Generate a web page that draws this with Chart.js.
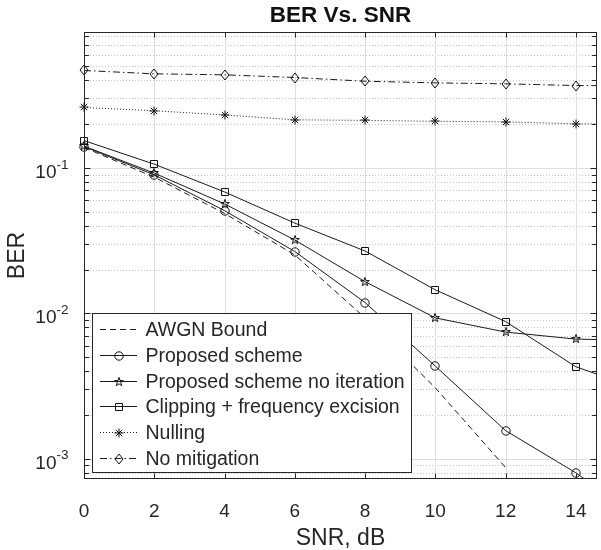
<!DOCTYPE html>
<html>
<head>
<meta charset="utf-8">
<script src="https://cdn.jsdelivr.net/npm/chart.js@4.4.0/dist/chart.umd.min.js"></script>
<style>
  html, body { margin: 0; padding: 0; background: #fff; overflow: hidden; }
  #wrap { width: 603px; height: 550px; }
</style>
</head>
<body>
<div id="wrap"><canvas id="ber" width="603" height="550"></canvas></div>
<script>
// SNR points (dB)
const snr = [0, 2, 4, 6, 8, 10, 12, 14, 16];
const snrAwgn = [0, 2, 4, 6, 8, 10, 12];

// BER curves
const berAwgn = [0.138, 0.0863, 0.0486, 0.0252, 0.0093, 0.00307, 0.00087];
const berProposed = [0.140, 0.0895, 0.0508, 0.0266, 0.01185, 0.00433, 0.00156, 0.00080, 0.00036];
const berNoIter = [0.141, 0.092, 0.0565, 0.0319, 0.0165, 0.0093, 0.00743, 0.00665, 0.0065];
const berClipping = [0.154, 0.106, 0.0683, 0.0417, 0.0268, 0.0145, 0.00877, 0.00429, 0.0029];
const berNulling = [0.260, 0.247, 0.231, 0.214, 0.212, 0.209, 0.207, 0.201, 0.199];
const berNoMitigation = [0.467, 0.443, 0.436, 0.418, 0.394, 0.384, 0.378, 0.368, 0.366];

const seriesLabels = [
  "AWGN Bound",
  "Proposed scheme",
  "Proposed scheme no iteration",
  "Clipping + frequency excision",
  "Nulling",
  "No mitigation"
];

// axis limits
const xMax = 14.6;
const yMin = 7.26e-4;
const yMax = 0.859;

const FONT = "'Liberation Sans', Arial, Helvetica, sans-serif";
const AXIS = "#262626";
const LINE = "#1a1a1a";

// MATLAB-like hollow markers as small canvases (centre at 7,7 for crisp 1px strokes)
function markerCanvas(draw) {
  const c = document.createElement("canvas");
  c.width = 14; c.height = 14;
  const g = c.getContext("2d");
  g.strokeStyle = "#111";
  g.lineWidth = 1;
  g.translate(7, 7);
  g.beginPath();
  draw(g);
  g.stroke();
  return c;
}

const circleMk = markerCanvas(g => g.arc(0, 0, 4.2, 0, Math.PI * 2));
const squareMk = markerCanvas(g => g.rect(-3.5, -3.5, 7, 7));
const diamondMk = markerCanvas(g => {
  g.moveTo(0, -5); g.lineTo(4, 0); g.lineTo(0, 5); g.lineTo(-4, 0); g.closePath();
});
const pentagramMk = markerCanvas(g => {
  const ro = 4.6, ri = ro * 0.382;
  for (let i = 0; i < 10; i++) {
    const r = i % 2 ? ri : ro;
    const a = -Math.PI / 2 + i * Math.PI / 5;
    if (i === 0) g.moveTo(r * Math.cos(a), r * Math.sin(a));
    else g.lineTo(r * Math.cos(a), r * Math.sin(a));
  }
  g.closePath();
});
const asteriskMk = markerCanvas(g => {
  const r = 4.5;
  for (let k = 0; k < 4; k++) {
    const a = k * Math.PI / 4;
    g.moveTo(-r * Math.cos(a), -r * Math.sin(a));
    g.lineTo(r * Math.cos(a), r * Math.sin(a));
  }
});

const pairs = (xs, ys) => ys.map((v, i) => ({ x: xs[i], y: v }));

function series(label, xs, ys, dash, marker) {
  return {
    label,
    data: pairs(xs, ys),
    borderColor: LINE,
    borderWidth: 1,
    borderDash: dash,
    pointStyle: marker || false,
    pointRadius: marker ? 5 : 0,
    fill: false,
    tension: 0,
    clip: { left: 8, top: 0, right: 0, bottom: 0 }
  };
}

const datasets = [
  series(seriesLabels[0], snrAwgn, berAwgn, [6, 4], null),
  series(seriesLabels[1], snr, berProposed, [], circleMk),
  series(seriesLabels[2], snr, berNoIter, [], pentagramMk),
  series(seriesLabels[3], snr, berClipping, [], squareMk),
  series(seriesLabels[4], snr, berNulling, [1, 2], asteriskMk),
  series(seriesLabels[5], snr, berNoMitigation, [7, 3, 1.5, 3], diamondMk)
];

function yTicks(min, max) {
  const out = [];
  for (let e = -5; e <= 1; e++) {
    for (let m = 1; m <= 9; m++) {
      const v = m * Math.pow(10, e);
      if (v >= min && v <= max) out.push({ v, e, major: m === 1 });
    }
  }
  return out;
}

function seg(ctx, x1, y1, x2, y2) {
  ctx.beginPath(); ctx.moveTo(x1, y1); ctx.lineTo(x2, y2); ctx.stroke();
}

// grid, box, ticks, legend and title in the MATLAB look
const matlabAxes = {
  id: "matlabAxes",
  beforeDatasetsDraw(chart) {
    const { ctx, chartArea: a, scales: { x, y } } = chart;
    const ticks = yTicks(y.min, y.max);
    ctx.save();
    ctx.lineWidth = 1;
    ctx.strokeStyle = "#c6c6c6";
    ctx.setLineDash([1, 2]);
    ticks.filter(t => !t.major).forEach(t => {
      const py = Math.round(y.getPixelForValue(t.v)) + 0.5;
      seg(ctx, a.left, py, a.right, py);
    });
    ctx.setLineDash([]);
    ctx.strokeStyle = "#e0e0e0";
    ticks.filter(t => t.major).forEach(t => {
      const py = Math.round(y.getPixelForValue(t.v)) + 0.5;
      seg(ctx, a.left, py, a.right, py);
    });
    x.ticks.forEach(t => {
      const px = Math.round(x.getPixelForValue(t.value)) + 0.5;
      seg(ctx, px, a.top, px, a.bottom);
    });
    ctx.restore();
    // markers are bitmaps: keep them sharp
    ctx.imageSmoothingEnabled = false;
  },
  afterDatasetsDraw(chart) {
    const { ctx, chartArea: a, scales: { x, y } } = chart;
    const L = Math.round(a.left) + 0.5, R = Math.round(a.right) - 0.5;
    const T = Math.round(a.top) + 0.5, B = Math.round(a.bottom) - 0.5;
    ctx.save();
    ctx.strokeStyle = AXIS;
    ctx.lineWidth = 1;
    ctx.strokeRect(L, T, R - L, B - T);

    // inward ticks
    x.ticks.forEach(t => {
      const px = Math.round(x.getPixelForValue(t.value)) + 0.5;
      seg(ctx, px, B, px, B - 5);
      seg(ctx, px, T, px, T + 5);
    });
    const ticks = yTicks(y.min, y.max);
    ticks.forEach(t => {
      const py = Math.round(y.getPixelForValue(t.v)) + 0.5;
      const len = t.major ? 6 : 4.5;
      seg(ctx, L, py, L + len, py);
      seg(ctx, R, py, R - len, py);
    });

    // y tick labels 10^e
    ctx.fillStyle = AXIS;
    ctx.textBaseline = "middle";
    ctx.textAlign = "right";
    ticks.filter(t => t.major).forEach(t => {
      const py = y.getPixelForValue(t.v);
      const exp = String(t.e);
      ctx.font = "13.5px " + FONT;
      const w = ctx.measureText(exp).width;
      ctx.fillText(exp, a.left - 15.5, py - 3);
      ctx.font = "19px " + FONT;
      ctx.fillText("10", a.left - 15.5 - w, py + 4.5);
    });

    // legend box
    const bx = a.left + 8, by = a.bottom - 166, bw = 319, bh = 159;
    ctx.fillStyle = "#fff";
    ctx.fillRect(bx, by, bw, bh);
    ctx.strokeRect(Math.round(bx) + 0.5, Math.round(by) + 0.5, bw, bh);
    ctx.font = "19.5px " + FONT;
    ctx.textAlign = "left";
    chart.data.datasets.forEach((ds, i) => {
      const cy = Math.round(by + 16 + i * 25.75) + 0.5;
      ctx.strokeStyle = ds.borderColor;
      ctx.lineWidth = ds.borderWidth;
      ctx.setLineDash(ds.borderDash);
      seg(ctx, bx + 8, cy, bx + 45, cy);
      ctx.setLineDash([]);
      if (ds.pointStyle) {
        const m = ds.pointStyle;
        ctx.drawImage(m, Math.round(bx + 26.5) - 7, Math.round(cy) - 7);
      }
      ctx.fillStyle = AXIS;
      ctx.fillText(ds.label, bx + 53.5, cy + 1);
    });

    // title
    ctx.fillStyle = "#111";
    ctx.font = "bold 22.5px " + FONT;
    ctx.textAlign = "center";
    ctx.fillText("BER Vs. SNR", (a.left + a.right) / 2, 15.5);
    ctx.restore();
  }
};

new Chart(document.getElementById("ber"), {
  type: "line",
  data: { datasets },
  options: {
    responsive: false,
    animation: false,
    events: [],
    layout: { padding: { top: 32, right: 1, left: 0, bottom: 0 } },
    plugins: {
      legend: { display: false },
      title: { display: false },
      tooltip: { enabled: false }
    },
    scales: {
      x: {
        type: "linear",
        min: 0,
        max: xMax,
        grid: { display: false },
        border: { display: false },
        ticks: {
          stepSize: 2,
          includeBounds: false,
          autoSkip: false,
          maxRotation: 0,
          padding: 13,
          color: AXIS,
          font: { family: FONT, size: 19 }
        },
        title: {
          display: true,
          text: "SNR, dB",
          color: AXIS,
          font: { family: FONT, size: 23 },
          padding: { top: 0, bottom: -2 }
        },
        afterFit: (s) => { s.height = 71; }
      },
      y: {
        type: "logarithmic",
        min: yMin,
        max: yMax,
        grid: { display: false },
        border: { display: false },
        ticks: { display: false },
        title: {
          display: true,
          text: "BER",
          color: AXIS,
          font: { family: FONT, size: 23 },
          padding: { top: 4, bottom: 0 }
        },
        afterFit: (s) => { s.width = 84; }
      }
    }
  },
  plugins: [matlabAxes]
});
</script>
</body>
</html>
